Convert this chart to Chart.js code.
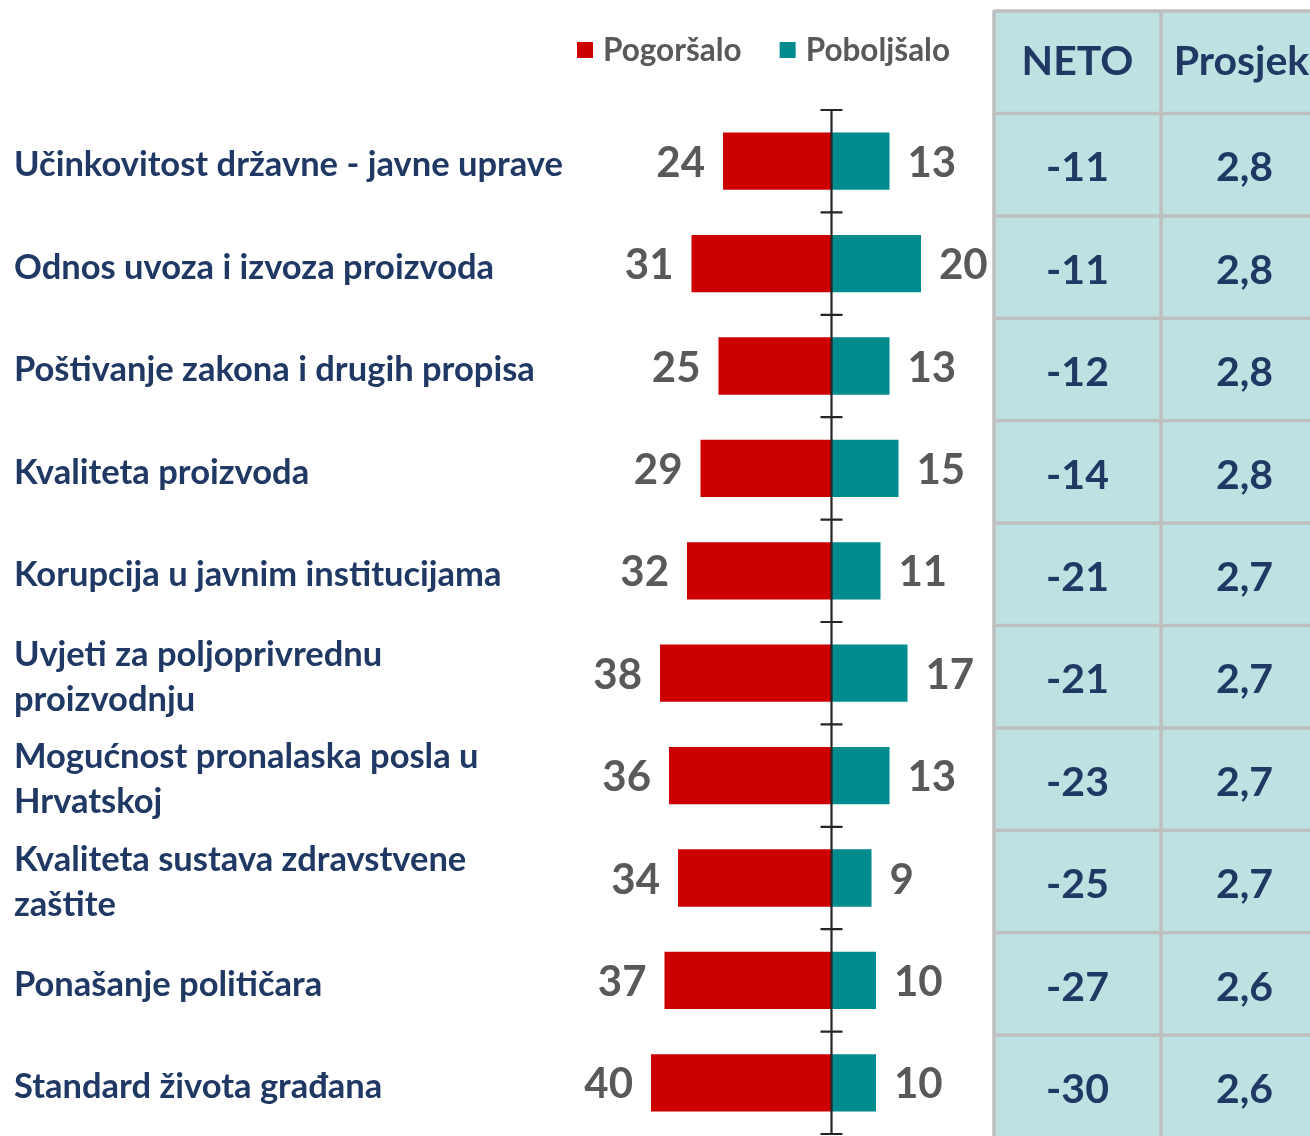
<!DOCTYPE html>
<html><head><meta charset="utf-8">
<script src="https://cdn.jsdelivr.net/npm/chart.js@4.4.1/dist/chart.umd.min.js"></script>
<style>html,body{margin:0;padding:0;background:#fff;}#wrap{width:1310px;height:1136px;}</style>
</head><body><div id="wrap"><canvas id="c" width="1310" height="1136"></canvas></div>
<script>
const categories = [
  'Učinkovitost državne - javne uprave',
  'Odnos uvoza i izvoza proizvoda',
  'Poštivanje zakona i drugih propisa',
  'Kvaliteta proizvoda',
  'Korupcija u javnim institucijama',
  ['Uvjeti za poljoprivrednu', 'proizvodnju'],
  ['Mogućnost pronalaska posla u', 'Hrvatskoj'],
  ['Kvaliteta sustava zdravstvene', 'zaštite'],
  'Ponašanje političara',
  'Standard života građana'
];
const worsened = [24, 31, 25, 29, 32, 38, 36, 34, 37, 40];
const improved = [13, 20, 13, 15, 11, 17, 13, 9, 10, 10];
const neto = [-11, -11, -12, -14, -21, -21, -23, -25, -27, -30];
const average = ['2,8', '2,8', '2,8', '2,8', '2,7', '2,7', '2,7', '2,7', '2,6', '2,6'];
const seriesNames = ['Pogoršalo', 'Poboljšalo'];
const tableHeaders = ['NETO', 'Prosjek'];

const RED = '#CC0000', TEAL = '#008B8F';
const NAVY = '#1F3864', GREY = '#595959';
const FONT = 'Lato, "Open Sans", sans-serif';

const overlay = {
  id: 'overlay',
  afterDatasetsDraw(chart) {
    const ctx = chart.ctx;
    const xs = chart.scales.x, ys = chart.scales.y;
    const n = categories.length;
    const step = (ys.bottom - ys.top) / n;
    ctx.save();
    // data labels
    ctx.font = 'bold 42px ' + FONT;
    ctx.fillStyle = GREY;
    ctx.textBaseline = 'middle';
    chart.data.datasets.forEach((ds, di) => {
      const meta = chart.getDatasetMeta(di);
      meta.data.forEach((el, i) => {
        const left = Math.min(el.x, el.base), right = Math.max(el.x, el.base);
        const txt = String(Math.abs(ds.data[i]));
        if (ds.data[i] < 0) { ctx.textAlign = 'right'; ctx.fillText(txt, left - 18, el.y + 2); }
        else { ctx.textAlign = 'left'; ctx.fillText(txt, right + 18, el.y + 2); }
      });
    });
    // zero axis with crossing ticks
    const x0 = Math.round(xs.getPixelForValue(0)) + 0.5;
    ctx.strokeStyle = '#262626';
    ctx.lineWidth = 2.2;
    ctx.beginPath();
    ctx.moveTo(x0, ys.top); ctx.lineTo(x0, ys.bottom);
    for (let k = 0; k <= n; k++) {
      const yy = ys.top + k * step;
      ctx.moveTo(x0 - 11, yy); ctx.lineTo(x0 + 11, yy);
    }
    ctx.stroke();
    // legend
    ctx.font = 'bold 31.5px ' + FONT;
    ctx.textAlign = 'left';
    let lx = 577;
    chart.data.datasets.forEach((ds) => {
      ctx.fillStyle = ds.backgroundColor;
      ctx.fillRect(lx, 42, 16, 16);
      ctx.fillStyle = GREY;
      ctx.fillText(ds.label, lx + 26, 51);
      lx += 26 + ctx.measureText(ds.label).width + 38;
    });
    // table
    const tL = 994, tDiv = 1161, tTop = 10;
    const W = chart.width, H = chart.height;
    const colW = tDiv - tL;
    ctx.fillStyle = '#BEE2E1';
    ctx.fillRect(tL, tTop, W - tL, H - tTop);
    ctx.strokeStyle = '#BFBFBF';
    ctx.lineWidth = 3.5;
    ctx.beginPath();
    ctx.moveTo(tL, tTop); ctx.lineTo(tL, H);
    ctx.moveTo(tDiv, tTop); ctx.lineTo(tDiv, H);
    ctx.moveTo(tL, tTop + 1); ctx.lineTo(W, tTop + 1);
    for (let k = 0; k < n; k++) {
      const yy = ys.top + k * step + 3.5;
      ctx.moveTo(tL, yy); ctx.lineTo(W, yy);
    }
    ctx.stroke();
    ctx.fillStyle = NAVY;
    ctx.font = 'bold 41px ' + FONT;
    ctx.textAlign = 'center';
    const c1 = tL + colW / 2, c2 = tDiv + colW / 2;
    const hy = (tTop + ys.top + 3.5) / 2;
    ctx.fillText(tableHeaders[0], c1, hy);
    ctx.fillText(tableHeaders[1], c2 - 3, hy);
    for (let i = 0; i < n; i++) {
      const cy = ys.getPixelForValue(i) + 7;
      ctx.fillText(String(neto[i]), c1, cy);
      ctx.fillText(average[i], c2, cy);
    }
    ctx.restore();
  }
};

new Chart(document.getElementById('c'), {
  type: 'bar',
  data: {
    labels: categories,
    datasets: [
      { label: seriesNames[0], data: worsened.map(v => -v), backgroundColor: RED, borderWidth: 0 },
      { label: seriesNames[1], data: improved, backgroundColor: TEAL, borderWidth: 0 }
    ]
  },
  options: {
    indexAxis: 'y',
    responsive: false,
    animation: false,
    devicePixelRatio: 1,
    layout: { padding: { left: 14, right: 344, top: 110, bottom: 2 } },
    datasets: { bar: { categoryPercentage: 1, barPercentage: 0.56 } },
    scales: {
      x: { stacked: true, min: -50, max: 30, display: false },
      y: {
        stacked: true, offset: true,
        grid: { display: false }, border: { display: false },
        ticks: { crossAlign: 'far', padding: 0, labelOffset: 4, color: NAVY,
          font: { family: FONT, weight: 'bold', size: 34.5, lineHeight: 1.3 } },
        afterFit(scale) { scale.width = 592; scale.paddingTop = 0; scale.paddingBottom = 0; }
      }
    },
    plugins: { legend: { display: false }, tooltip: { enabled: false } }
  },
  plugins: [overlay]
});
</script>
</body></html>
